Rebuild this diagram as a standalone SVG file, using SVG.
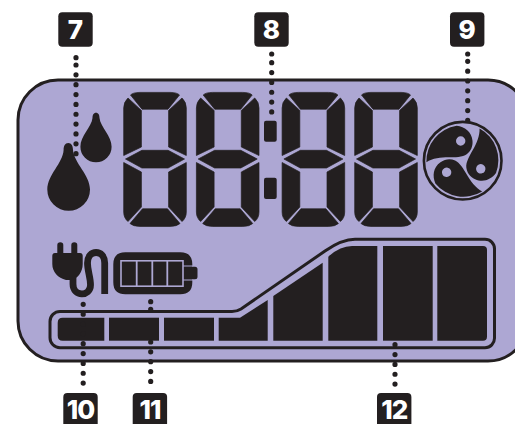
<svg xmlns="http://www.w3.org/2000/svg" width="515" height="424" viewBox="0 0 515 424">
<style>
.d{fill:#231F20}
.lcd{fill:#ADA7D3}
.o{fill:none;stroke:#231F20}
.dots{fill:none;stroke:#231F20;stroke-width:5.2;stroke-linecap:round;stroke-dasharray:0 9.85}
.t{fill:#fff;font-family:"Inter","Liberation Sans",sans-serif;font-weight:800;font-size:26px;text-anchor:middle}
</style>
<defs>
<g id="digit" class="d" stroke="#231F20" stroke-width=".7" stroke-linejoin="round">
<path d="M130.5,95Q133,92.4 140,92.4H170Q177,92.4 179.5,95L168,109.2H142Z"/>
<path d="M128,98L141.4,110.4V147L123.7,155.5V108Q123.7,102 128,98Z"/>
<path d="M182,98L168.6,110.4V147L186.3,155.5V108Q186.3,102 182,98Z"/>
<path d="M125.5,159L141.9,150.3H168.1L184.5,159L168.1,168H141.9Z"/>
<path d="M123.7,162.5L141.4,172V207L128,221.5Q123.7,218 123.7,212Z"/>
<path d="M186.3,162.5L168.6,172V207L182,221.5Q186.3,218 186.3,212Z"/>
<path d="M142.5,208.8H167.5L180,223.5Q177,226.4 170,226.4H140Q133,226.4 130,223.5Z"/>
</g>
<path id="comma" class="d" fill-rule="evenodd" d="M-36.3,1.5A36 36 0 0 1 -6,-35C2,-34 9,-29 9.8,-20C10.3,-14 8,-9.5 4,-6.5C0,-3.5 -8,-3.4 -14,-3.4C-22,-3.4 -30,-2.5 -36.3,1.5ZM2.7,-19.7A4.7 4.7 0 1 0 -6.7,-19.7A4.7 4.7 0 1 0 2.7,-19.7Z"/>
</defs>
<g id="panel">
<path class="lcd" stroke="#231F20" stroke-width="3" d="M58,80H488A40 40 0 0 1 528,120V321A40 40 0 0 1 488,361H58A40 40 0 0 1 18,321V120A40 40 0 0 1 58,80Z"/>
</g>
<g id="drops" class="d">
<path d="M68.3,143C71.5,143 73,146 73,150C74,163 90,175 90,189.5A21.3 21.3 0 0 1 47.3,189.5C47.3,175 63,163 63.6,150C63.6,146 65,143 68.3,143Z"/>
<path d="M96,112.7C98.5,112.7 99.5,115 99.5,118C100.5,127 111.6,136 111.6,146.7A15.6 15.6 0 0 1 80.4,146.7C80.4,136 91.5,127 92.5,118C92.5,115 93.5,112.7 96,112.7Z"/>
</g>
<g id="digits">
<use href="#digit"/>
<use href="#digit" x="72.7"/>
<use href="#digit" x="158.4"/>
<use href="#digit" x="231"/>
</g>
<g id="colon" class="d">
<rect x="264" y="120.7" width="12.7" height="21" rx="2"/>
<rect x="264" y="177.7" width="12.7" height="21.3" rx="2"/>
</g>
<g id="fan">
<circle class="o" cx="462.7" cy="160.7" r="38.8" stroke-width="2.6"/>
<use href="#comma" transform="translate(462.7 160.7)"/>
<use href="#comma" transform="translate(462.7 160.7) rotate(120)"/>
<use href="#comma" transform="translate(462.7 160.7) rotate(240)"/>
</g>
<g id="plug">
<path class="d" d="M57.3,245Q57.3,242.3 60.3,242.3T63.3,245V253H71.3V245Q71.3,242.3 74.3,242.3T77.3,245V253H80Q82.7,253 82.7,256V264C82.7,272 78,278 72,280H66C58,278 52.3,272 52.3,264V256Q52.3,253 55,253H57.3Z"/>
<path class="o" stroke-width="6.8" d="M73,275V284C73,297 90.5,297 90.5,285C90.5,277 87.5,271 87.5,263C87.5,249 104.7,249 104.7,263V294"/>
</g>
<g id="battery">
<path class="d" d="M125.3,252.3H180.3Q192.3,252.3 192.3,264.3V266.8H195Q197.5,266.8 197.5,269.3V276.8Q197.5,279.3 195,279.3H192.3V282.3Q192.3,294.3 180.3,294.3H125.3Q113.3,294.3 113.3,282.3V264.3Q113.3,252.3 125.3,252.3Z"/>
<rect x="121" y="260.8" width="62" height="25.4" fill="none" stroke="#ADA7D3" stroke-width="1.6"/>
<path fill="none" stroke="#ADA7D3" stroke-width="1.8" d="M136.7,260.8V286.2M152.3,260.8V286.2M167.3,260.8V286.2"/>
<path fill="none" stroke="#ADA7D3" stroke-width="1.1" d="M183,266H193M183,280H193"/>
</g>
<g id="gauge">
<path class="o" stroke-width="3" d="M60,311.5H232Q237,311.5 241,309L325,251Q342,239.3 355,239.3H485A9.5 9.5 0 0 1 494.5,249V338A9.5 9.5 0 0 1 485,347.7H60A10 10 0 0 1 50,337.7V321.5A10 10 0 0 1 60,311.5Z"/>
<g class="d">
<path d="M62.7,317.7H104.3V340.7H62.7Q57.7,340.7 57.7,335.7V322.7Q57.7,317.7 62.7,317.7Z"/>
<rect x="109" y="317.7" width="50" height="23"/>
<rect x="164" y="317.7" width="50" height="23"/>
<path d="M218.7,317.7H240L267.7,300V340.7H218.7Z"/>
<path d="M273.3,296L322.7,262.7V340.7H273.3Z"/>
<path d="M328.3,256.7Q340,246 352,246H377.3V340.7H328.3Z"/>
<rect x="383" y="246" width="49.7" height="94.7"/>
<path d="M437.3,246H483Q487,246 487,250V336.7Q487,340.7 483,340.7H437.3Z"/>
</g>
</g>
<g id="connectors">
<path class="dots" d="M76,57.7h.01M76,65V162"/>
<path class="dots" d="M271.7,54h.01M271.7,62.7V112"/>
<path class="dots" d="M467.7,54h.01M467.7,61.3V130"/>
<path class="dots" d="M83.2,304.3V384"/>
<path class="dots" d="M150.7,301.7h.01M150.7,309.3V310M150.7,342V382"/>
<path class="dots" d="M395,344.7V386"/>
</g>
<g id="label7"><rect class="d" x="58.3" y="12.3" width="34.4" height="34.4" rx="4"/><text class="t" x="75.5" y="39">7</text></g>
<g id="label8"><rect class="d" x="254.3" y="12.3" width="34.4" height="34.4" rx="4"/><text class="t" x="271.5" y="39">8</text></g>
<g id="label9"><rect class="d" x="450" y="12.3" width="34.4" height="34.4" rx="4"/><text class="t" x="467.2" y="39">9</text></g>
<g id="label10"><rect class="d" x="63.3" y="393" width="34.4" height="34.4" rx="4"/><text class="t" x="80.5" y="418.5" style="letter-spacing:-1px">10</text></g>
<g id="label11"><rect class="d" x="132.7" y="393" width="34.4" height="34.4" rx="4"/><text class="t" x="149.9" y="418.5" style="letter-spacing:-1px">11</text></g>
<g id="label12"><rect class="d" x="377" y="393" width="34.4" height="34.4" rx="4"/><text class="t" x="394.2" y="418.5" style="letter-spacing:-1px">12</text></g>
</svg>
